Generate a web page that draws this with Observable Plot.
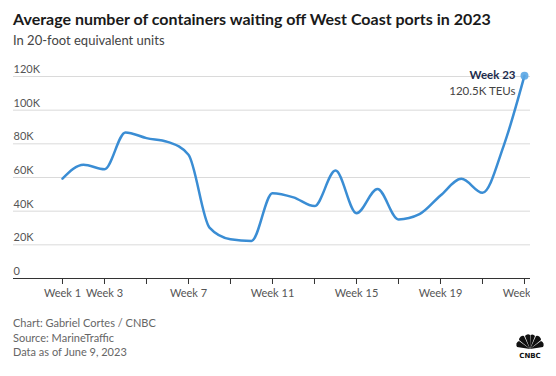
<!DOCTYPE html>
<html>
<head>
<meta charset="utf-8">
<script src="https://cdn.jsdelivr.net/npm/d3@7"></script>
<script src="https://cdn.jsdelivr.net/npm/@observablehq/plot@0.6"></script>
<style>
  html, body { margin: 0; padding: 0; background: #fff; }
  body { width: 556px; height: 376px; position: relative; overflow: hidden; font-family: Lato, "Open Sans", sans-serif; }
  #title { position: absolute; left: 13px; top: 9px; font-size: 16px; font-weight: 700; color: #1a1a1a; white-space: nowrap; }
  #subtitle { position: absolute; left: 13px; top: 32px; font-size: 13px; color: #444; white-space: nowrap; }
  #chart { position: absolute; left: 0; top: 56px; }
  #caption { position: absolute; left: 13px; top: 316px; font-size: 11px; line-height: 14.5px; color: #666; }
  #logo { position: absolute; left: 513px; top: 334px; }
</style>
</head>
<body>
<div id="title">Average number of containers waiting off West Coast ports in 2023</div>
<div id="subtitle">In 20-foot equivalent units</div>
<div id="chart"></div>
<div id="caption">Chart: Gabriel Cortes / CNBC<br>Source: MarineTraffic<br>Data as of June 9, 2023</div>
<div id="logo">
<svg width="34" height="28" viewBox="0 0 34 28">
  <g fill="#111" transform="translate(17,15)">
    <path d="M0,0 L-13,-2 A4,4 0 0 1 -11,-8 Z"/>
    <path d="M0,0 L-11,-9 A4,4 0 0 1 -6,-13 Z"/>
    <path d="M0,0 L-5,-13 A3.5,3.5 0 0 1 0,-14 Z"/>
    <path d="M0,0 L0.5,-14 A3.5,3.5 0 0 1 5,-13 Z"/>
    <path d="M0,0 L6,-13 A4,4 0 0 1 11,-9 Z"/>
    <path d="M0,0 L11,-8 A4,4 0 0 1 13,-2 Z"/>
  </g>
  <text x="17" y="24" text-anchor="middle" font-family="DejaVu Sans" font-weight="700" font-size="7" fill="#111">CNBC</text>
</svg>
</div>
<script>
const weeks = [1, 2, 3, 4, 5, 6, 7, 8, 9, 10, 11, 12, 13, 14, 15, 16, 17, 18, 19, 20, 21, 22, 23];
const teus = [59.3, 67.6, 64.9, 86.8, 83.4, 81.2, 73.5, 30.2, 23.3, 22.3, 50.7, 48.2, 43.0, 64.1, 38.8, 53.2, 35.1, 38.2, 49.3, 59.2, 50.9, 78.5, 120.5].map(v => v * 1000);
const yTicks = [0, 20000, 40000, 60000, 80000, 100000, 120000];
const xTicks = [1, 3, 5, 7, 9, 11, 13, 15, 17, 19, 21, 23];
const xTickLabels = ["Week 1", "Week 3", "", "Week 7", "", "Week 11", "", "Week 15", "", "Week 19", "", "Week 23"];

const data = weeks.map((w, i) => ({week: w, value: teus[i]}));
const last = [data[data.length - 1]];

const chart = Plot.plot({
  width: 530,
  height: 250,
  marginLeft: 13,
  marginRight: 0,
  marginTop: 20,
  marginBottom: 28,
  style: {fontFamily: "Lato, 'Open Sans', sans-serif", fontSize: "11px", color: "#555", overflow: "hidden", background: "transparent"},
  x: {domain: [-1.333, 23.286], label: null},
  y: {domain: [0, 120000], label: null},
  marks: [
    Plot.gridY(yTicks.filter(d => d > 0), {stroke: "#dadada", strokeOpacity: 1, strokeWidth: 1}),
    Plot.axisY(yTicks, {anchor: "left", label: null, tickSize: 0, tickPadding: 0, textAnchor: "start", dy: -7, fill: "#555",
      tickFormat: d => d === 0 ? "0" : (d / 1000) + "K"}),
    Plot.ruleY([0], {stroke: "#333", strokeWidth: 1}),
    Plot.axisX(xTicks, {anchor: "bottom", label: null, tickSize: 6, tickPadding: 5, stroke: "#333", fill: "#555",
      tickFormat: d => xTickLabels[xTicks.indexOf(d)]}),
    Plot.line(data, {x: "week", y: "value", curve: "monotone-x", stroke: "#3a8dd4", strokeWidth: 2.5}),
    Plot.dot(last, {x: "week", y: "value", r: 4, fill: "#5aa6e4", fillOpacity: 0.9}),
    Plot.text(last, {x: "week", y: "value", text: d => "Week " + d.week, textAnchor: "end", dx: -9, dy: 0,
      fontWeight: 700, fontSize: 11.5, fill: "#1d2c4d"}),
    Plot.text(last, {x: "week", y: "value", text: d => (d.value / 1000).toFixed(1) + "K TEUs", textAnchor: "end", dx: -9, dy: 16,
      fontSize: 11.5, fill: "#444"})
  ]
});
document.getElementById("chart").append(chart);
</script>
</body>
</html>
